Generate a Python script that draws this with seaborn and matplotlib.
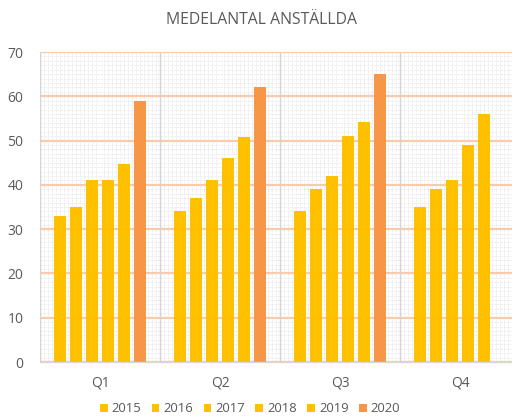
import numpy as np
import pandas as pd
import matplotlib
matplotlib.use("Agg")
import matplotlib.pyplot as plt
from matplotlib.patches import Patch
from matplotlib.ticker import MultipleLocator
import seaborn as sns

quarters = ["Q1", "Q2", "Q3", "Q4"]
years = ["2015", "2016", "2017", "2018", "2019", "2020"]
v2015 = [33, 34, 34, 35]
v2016 = [35, 37, 39, 39]
v2017 = [41, 41, 42, 41]
v2018 = [41, 46, 51, 49]
v2019 = [44.6, 50.7, 54.3, 56]
v2020 = [59, 62, 65, np.nan]
title = "MEDELANTAL ANSTÄLLDA"

series = [v2015, v2016, v2017, v2018, v2019, v2020]
rows = []
for y, vals in zip(years, series):
    for q, v in zip(quarters, vals):
        rows.append({"quarter": q, "year": y, "value": v})
df = pd.DataFrame(rows)

yellow = "#FFC000"
orange = "#F79646"
palette = {"2015": yellow, "2016": yellow, "2017": yellow, "2018": yellow,
           "2019": yellow, "2020": orange}
text_color = "#595959"

sns.set_style("white")
plt.rcParams["font.family"] = ["Open Sans", "DejaVu Sans"]

fig = plt.figure(figsize=(5.12, 4.17), dpi=100)
ax = fig.add_axes([40 / 512, 55 / 417, 480 / 512, 310 / 417])

sns.barplot(data=df, x="quarter", y="value", hue="year", order=quarters,
            hue_order=years, palette=palette, width=0.8, gap=0.3,
            saturation=1, legend=False, ax=ax, zorder=3, edgecolor="none")

ax.set_xlim(-0.5, 3.5)
ax.set_ylim(0, 70)
ax.yaxis.set_major_locator(MultipleLocator(10))
ax.yaxis.set_minor_locator(MultipleLocator(1))
ax.xaxis.set_minor_locator(MultipleLocator(1 / 30))

# fine background grid
ax.grid(which="minor", axis="both", color="#ececec", linewidth=0.6,
        linestyle=(0, (3, 1)), zorder=0)
ax.grid(which="major", axis="x", visible=False)
ax.grid(which="major", axis="y", color="#F8CBAD", linewidth=1.6, zorder=1)
for xb in [-0.5, 0.5, 1.5, 2.5, 3.5]:
    ax.axvline(xb, color="#d4d4d4", linewidth=1.0, zorder=1)

for s in ["top", "right", "left"]:
    ax.spines[s].set_visible(False)
ax.spines["bottom"].set_color("#d9d9d9")
ax.spines["bottom"].set_linewidth(1.0)
ax.spines["bottom"].set_zorder(4)

ax.tick_params(axis="both", which="both", length=0, colors=text_color,
               labelsize=10)
ax.tick_params(axis="x", pad=10)
ax.tick_params(axis="y", pad=12)
ax.set_xlabel("")
ax.set_ylabel("")

fig.text(261 / 512, 1 - 20 / 417, title, ha="center", va="center",
         fontsize=11.3, color=text_color)

handles = [Patch(facecolor=palette[y], edgecolor="none", label=y) for y in years]
fig.legend(handles=handles, loc="center", bbox_to_anchor=(250 / 512, 1 - 409 / 417),
           ncol=6, frameon=False, fontsize=9.4, labelcolor=text_color,
           handlelength=0.6, handleheight=0.6, handletextpad=0.3,
           columnspacing=0.8)

fig.savefig("out.png", dpi=100)
